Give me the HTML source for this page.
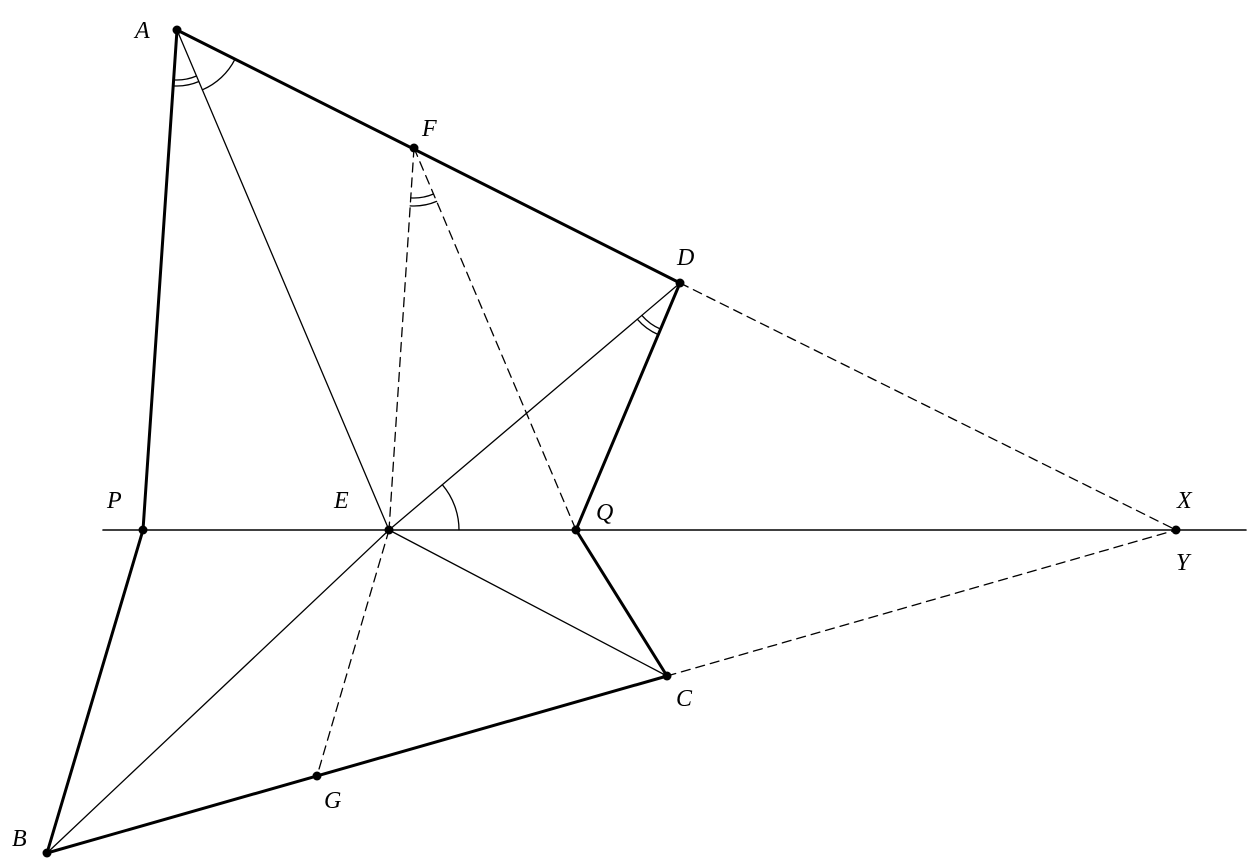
<!DOCTYPE html>
<html><head><meta charset="utf-8"><style>
html,body{margin:0;padding:0;background:#fff;}
svg{display:block}
text{font-family:"Liberation Serif",serif;font-style:italic;font-size:24px;fill:#000}
</style></head><body>
<svg width="1256" height="868" viewBox="0 0 1256 868" xmlns="http://www.w3.org/2000/svg">
<g stroke="#000" fill="none" stroke-linecap="round">
<line x1="103" y1="530" x2="1246" y2="530" stroke-width="1.6"/>
<g stroke-width="3">
<line x1="177" y1="30" x2="143" y2="530"/>
<line x1="143" y1="530" x2="47" y2="853"/>
<line x1="47" y1="853" x2="667" y2="676"/>
<line x1="667" y1="676" x2="576" y2="530"/>
<line x1="576" y1="530" x2="680" y2="283"/>
<line x1="177" y1="30" x2="680" y2="283"/>
</g>
<g stroke-width="1.3">
<line x1="177" y1="30" x2="389" y2="530"/>
<line x1="47" y1="853" x2="389" y2="530"/>
<line x1="389" y1="530" x2="680" y2="283"/>
<line x1="389" y1="530" x2="667" y2="676"/>
</g>
<g stroke-width="1.3" stroke-dasharray="9,6">
<line x1="414" y1="148" x2="389" y2="530"/>
<line x1="389" y1="530" x2="317" y2="776"/>
<line x1="414" y1="148" x2="576" y2="530"/>
<line x1="680" y1="283" x2="1176" y2="530"/>
<line x1="667" y1="676" x2="1176" y2="530"/>
</g>
<g stroke-width="1.3">
<path d="M173.6,79.9 A50,50 0 0 0 196.5,76"/>
<path d="M173.2,85.9 A56,56 0 0 0 198.9,81.5"/>
<path d="M202.4,89.8 A65,65 0 0 0 235,59.2"/>
<path d="M410.8,197.9 A50,50 0 0 0 433.5,194"/>
<path d="M410.2,205.9 A58,58 0 0 0 436.6,201.4"/>
<path d="M641.9,315.4 A50,50 0 0 0 660.6,329.1"/>
<path d="M637.3,319.2 A56,56 0 0 0 658.3,334.6"/>
<path d="M459,530 A70,70 0 0 0 442.3,484.7"/>
</g>
</g>
<g fill="#000">
<circle cx="177" cy="30" r="4.5"/><circle cx="414" cy="148" r="4.5"/>
<circle cx="680" cy="283" r="4.5"/><circle cx="143" cy="530" r="4.5"/>
<circle cx="389" cy="530" r="4.5"/><circle cx="576" cy="530" r="4.5"/>
<circle cx="1176" cy="530" r="4.5"/><circle cx="667" cy="676" r="4.5"/>
<circle cx="317" cy="776" r="4.5"/><circle cx="47" cy="853" r="4.5"/>
</g>
<text x="135" y="38">A</text>
<text x="422" y="136">F</text>
<text x="677" y="265">D</text>
<text x="107" y="508">P</text>
<text x="334" y="508">E</text>
<text x="596" y="520">Q</text>
<text x="1177" y="508">X</text>
<text x="1176" y="570">Y</text>
<text x="676" y="706">C</text>
<text x="324" y="808">G</text>
<text x="12" y="846">B</text>
</svg>
</body></html>
